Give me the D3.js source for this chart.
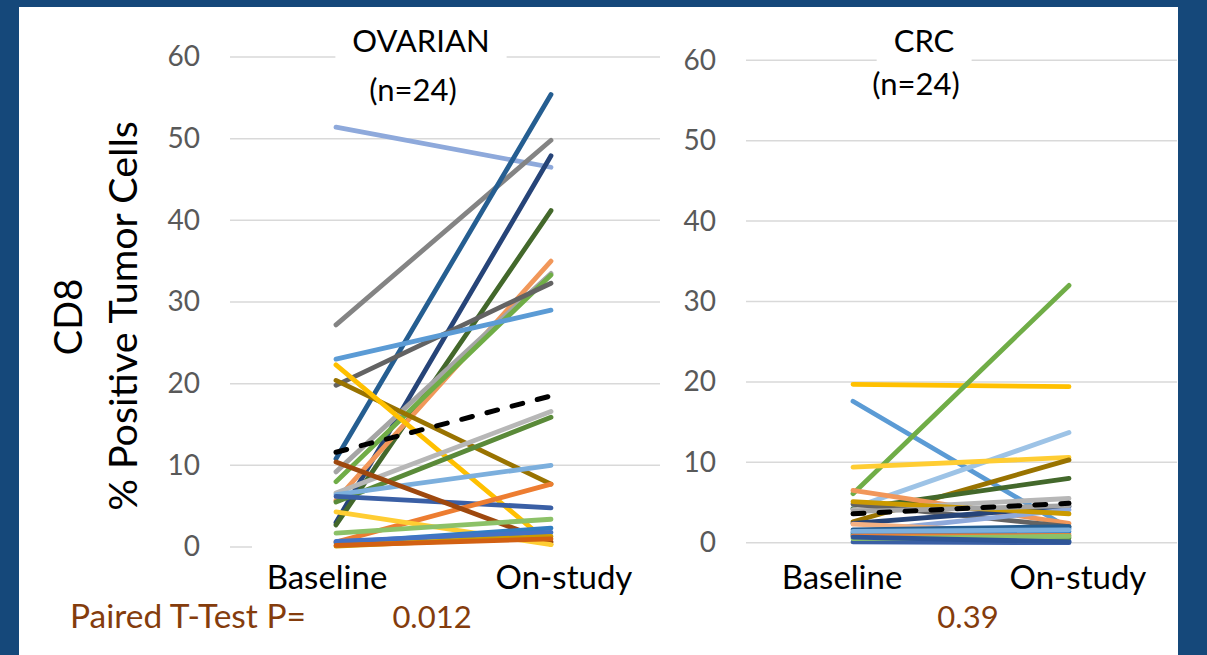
<!DOCTYPE html>
<html>
<head>
<meta charset="utf-8">
<script src="https://cdn.jsdelivr.net/npm/d3@7"></script>
<style>
  body { margin: 0; background: #15487a; }
  svg { display: block; font-family: Lato, "Open Sans", sans-serif; }
</style>
</head>
<body>
<svg id="chart" width="1207" height="655"></svg>
<script>
// time points, shared by both panels
const timepoints = ["Baseline", "On-study"];
const yTicks = [0, 10, 20, 30, 40, 50, 60];

// ovarian patients: [baseline, on-study]
const ovarianColors = ["#8EA9DB", "#848484", "#255E91", "#264478", "#43682B", "#F1975A",
  "#A5A5A5", "#70AD47", "#636363", "#5B9BD5", "#997300", "#FFC000", "#B7B7B7", "#5A8A39",
  "#7CAFDD", "#3A5FA5", "#ED7D31", "#9E480E", "#FFCD33", "#8CC168", "#327DC2", "#4472C4",
  "#CC9A00", "#D26012"];
const ovarianBaseline = [51.4, 27.2, 10.8, 3.0, 2.7, 5.7, 9.2, 8.0, 19.8, 23.0, 20.4, 22.3,
  6.6, 5.5, 6.4, 6.2, 0.6, 10.4, 4.3, 1.7, 0.5, 0.7, 0.1, 0.2];
const ovarianOnStudy = [46.5, 49.8, 55.4, 47.9, 41.2, 35.0, 33.5, 33.3, 32.3, 29.0, 7.7, 0.3,
  16.6, 15.9, 10.0, 4.8, 7.7, 0.6, 0.3, 3.4, 2.3, 1.8, 1.3, 1.0];
const ovarianMean = [11.6, 18.5];

// CRC patients
const crcColors = ["#FFC000", "#5B9BD5", "#70AD47", "#9DC3E6", "#FFCD33", "#997300",
  "#43682B", "#F1975A", "#B7B7B7", "#636363", "#264478", "#8EA9DB", "#F4B183", "#255E91",
  "#4472C4", "#5A8A39", "#CC9A00", "#327DC2", "#7CAFDD", "#ED7D31", "#A5A5A5", "#3A5FA5",
  "#8CC168", "#2F5597"];
const crcBaseline = [19.7, 17.6, 6.1, 4.3, 9.4, 2.6, 4.2, 6.5, 4.1, 4.8, 2.4, 1.3, 2.3, 1.6,
  1.2, 1.0, 5.1, 0.9, 1.4, 0.8, 3.9, 0.1, 0.5, 0.7];
const crcOnStudy = [19.4, 1.8, 32.0, 13.7, 10.6, 10.3, 8.0, 2.4, 5.5, 2.0, 4.5, 4.1, 1.1, 2.0,
  0.2, 0.6, 3.6, 1.4, 1.6, 0.9, 4.6, 0.0, 0.8, 0.1];
const crcMean = [3.6, 4.9];

const titles = ["OVARIAN", "CRC"];
const subtitles = ["(n=24)", "(n=24)"];
const pValues = ["0.012", "0.39"];

const svg = d3.select("#chart");

// white card inside the blue frame
svg.append("rect").attr("x", 19).attr("y", 7).attr("width", 1159).attr("height", 648)
  .attr("fill", "#fff");

const panels = [
  {title: titles[0], sub: subtitles[0], p: pValues[0], base: ovarianBaseline, post: ovarianOnStudy,
   colors: ovarianColors, mean: ovarianMean,
   grid: [230, 660], lines: [336, 551], labels: [327, 564], y: [547, 57],
   titleX: 421, subY: 101, pX: 432, zeroTo: 252},
  {title: titles[1], sub: subtitles[1], p: pValues[1], base: crcBaseline, post: crcOnStudy,
   colors: crcColors, mean: crcMean,
   grid: [746, 1177], lines: [853, 1069], labels: [842, 1078], y: [542.7, 60.3],
   titleX: 924, subY: 95, pX: 968, zeroTo: null}
];

panels.forEach(p => {
  const x = d3.scalePoint().domain(timepoints).range(p.lines);
  const xl = d3.scalePoint().domain(timepoints).range(p.labels);
  const y = d3.scaleLinear().domain([0, 60]).range(p.y);
  const g = svg.append("g");

  // gridlines
  g.selectAll(".grid").data(yTicks).join("line")
    .attr("x1", p.grid[0])
    .attr("x2", d => (d === 0 && p.zeroTo) ? p.zeroTo : p.grid[1])
    .attr("y1", d => y(d)).attr("y2", d => y(d))
    .attr("stroke", "#d9d9d9").attr("stroke-width", 1.5);

  const ax = g.append("g").attr("transform", `translate(${p.grid[0]},0)`)
    .call(d3.axisLeft(y).tickValues(yTicks).tickSize(0).tickPadding(30));
  ax.select(".domain").remove();
  ax.selectAll("text").attr("fill", "#595959").style("font-size", "28px")
    .style("font-family", "Lato");

  // title boxes hide the top gridline
  const box = g.append("rect").attr("fill", "#fff");
  const t = g.append("text").attr("x", p.titleX).attr("y", 52).attr("text-anchor", "middle")
    .style("font-size", "31px").text(p.title);
  const bb = t.node().getBBox();
  box.attr("x", bb.x - 17).attr("y", bb.y).attr("width", bb.width + 34).attr("height", bb.height + 8);
  g.append("text").attr("x", p.titleX - 8).attr("y", p.subY).attr("text-anchor", "middle")
    .style("font-size", "31px").text(p.sub);

  const line = d3.line().x(d => x(d[0])).y(d => y(d[1]));
  const series = p.base.map((b, i) => ({pts: [[timepoints[0], b], [timepoints[1], p.post[i]]], c: p.colors[i]}));
  g.selectAll(".pt").data(series).join("path")
    .attr("d", d => line(d.pts)).attr("fill", "none")
    .attr("stroke", d => d.c).attr("stroke-width", 4.8).attr("stroke-linecap", "round");

  g.append("path").attr("d", line(timepoints.map((k, i) => [k, p.mean[i]])))
    .attr("fill", "none").attr("stroke", "#000").attr("stroke-width", 5)
    .attr("stroke-dasharray", "11,15").attr("stroke-linecap", "round");

  g.selectAll(".cat").data(timepoints).join("text")
    .attr("x", d => xl(d)).attr("y", 589).attr("text-anchor", "middle")
    .style("font-size", "33px").text(d => d);

  g.append("text").attr("x", p.pX).attr("y", 628).attr("text-anchor", "middle")
    .attr("fill", "#843C0C").style("font-size", "31px").text(p.p);
});

svg.append("text").attr("x", 70).attr("y", 628).attr("fill", "#843C0C")
  .style("font-size", "33.5px").text("Paired T-Test P=");

// y axis title, two lines
svg.append("text").attr("transform", "translate(82,317) rotate(-90)").attr("text-anchor", "middle")
  .style("font-size", "38px").text("CD8");
svg.append("text").attr("transform", "translate(137,316) rotate(-90)").attr("text-anchor", "middle")
  .style("font-size", "39.5px").text("% Positive Tumor Cells");
</script>
</body>
</html>
